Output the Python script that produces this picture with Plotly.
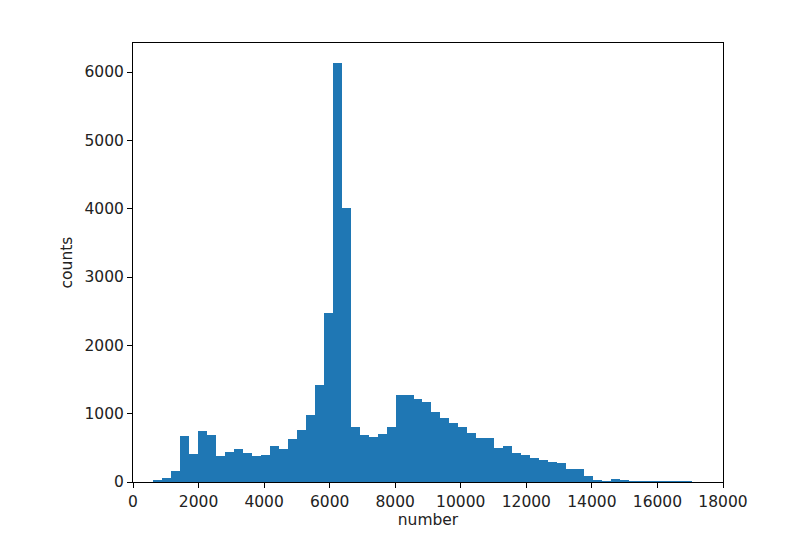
import plotly.graph_objects as go

# histogram bins
bin_start = 612
bin_width = 274
counts = [30, 55, 160, 670, 405, 750, 683, 380, 440, 490,
          420, 380, 400, 520, 490, 625, 765, 980, 1415, 2478,
          6137, 4015, 810, 683, 660, 700, 805, 1273, 1273, 1210,
          1170, 1030, 940, 860, 805, 717, 645, 645, 502, 522,
          420, 395, 347, 317, 297, 275, 195, 195, 88, 25,
          10, 45, 15, 12, 10, 10, 10, 10, 8, 8]

x_ticks = list(range(0, 18001, 2000))
y_ticks = list(range(0, 6001, 1000))

centers = [bin_start + bin_width * (i + 0.5) for i in range(len(counts))]

fig = go.Figure(go.Bar(
    x=centers, y=counts, width=bin_width,
    marker=dict(color="#1f77b4", line=dict(width=0)),
))

axis_style = dict(
    showline=True, linecolor="black", linewidth=1, mirror=True,
    ticks="outside", ticklen=5, tickcolor="black", showgrid=False, zeroline=False,
    tickfont=dict(size=15.5, color="#222"),
)

# page body has an 8px margin, so shift the plot area up/left to compensate
fig.update_layout(
    width=802, height=542,
    margin=dict(l=125, r=87, t=35, b=68),
    plot_bgcolor="white", paper_bgcolor="white",
    font=dict(family="DejaVu Sans", size=15.5, color="#222"),
    bargap=0, showlegend=False,
    xaxis=dict(range=[0, 18000], tickvals=x_ticks, ticktext=[str(v) for v in x_ticks],
               title=dict(text="number", standoff=4, font=dict(size=15.5)), **axis_style),
    yaxis=dict(range=[0, 6425], tickvals=y_ticks, ticktext=[str(v) for v in y_ticks],
               title=dict(text="counts", standoff=8, font=dict(size=15.5)), **axis_style),
)

fig.write_html("out.html")
